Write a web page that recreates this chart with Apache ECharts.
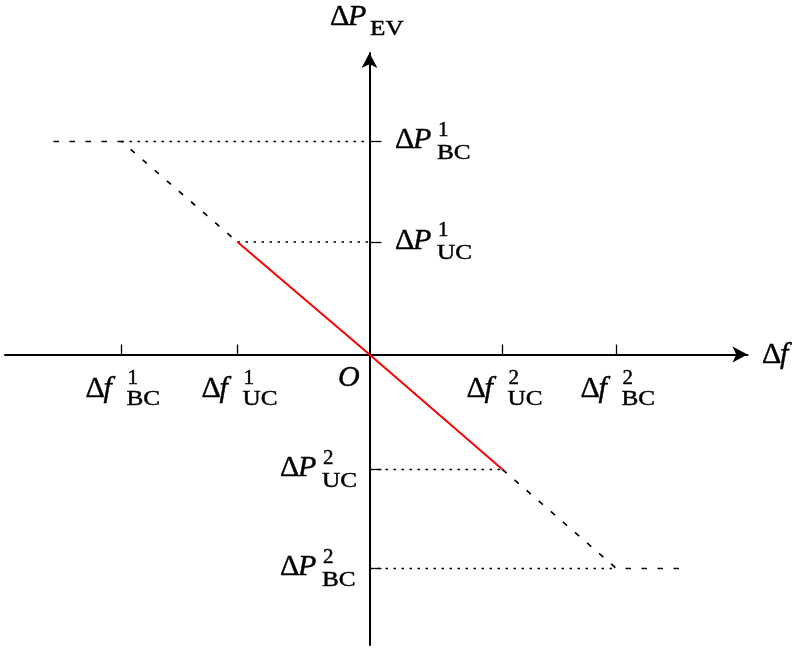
<!DOCTYPE html>
<html><head><meta charset="utf-8">
<script src="https://cdn.jsdelivr.net/npm/echarts@6/dist/echarts.min.js"></script>
<style>html,body{margin:0;padding:0;background:#fff}#chart{width:800px;height:649px}</style>
</head><body><div id="chart"></div>
<script>
// Δf tick positions (arbitrary units), left to right
const fTickValues = [-2.48, -1.32, 1.33, 2.47];
const fTickSup = ['1', '1', '2', '2'];
const fTickSub = ['BC', 'UC', 'UC', 'BC'];
// ΔP_EV tick positions, top to bottom
const pTickValues = [2.13, 1.125, -1.15, -2.14];
const pTickSup = ['1', '1', '2', '2'];
const pTickSub = ['BC', 'UC', 'UC', 'BC'];
// ends of the horizontal saturation segments
const fLeftEnd = -3.16;
const fRightEnd = 3.2;
// axis ranges
const fMin = -3.645, fMax = 3.78;
const pMin = -2.905, pMax = 3.015;

const FAMILY = 'Liberation Serif';
const MAIN = 30, SMALL = 21;

// line data built from the arrays above
const redLine = [[fTickValues[1], pTickValues[1]], [0, 0], [fTickValues[2], pTickValues[2]]];
const dashLeft = [[fLeftEnd, pTickValues[0]], [fTickValues[0], pTickValues[0]], [fTickValues[1], pTickValues[1]]];
const dashRight = [[fTickValues[2], pTickValues[2]], [fTickValues[3], pTickValues[3]], [fRightEnd, pTickValues[3]]];
const dotLines = [
  [[fTickValues[0], pTickValues[0]], [0, pTickValues[0]]],
  [[fTickValues[1], pTickValues[1]], [0, pTickValues[1]]],
  [[0, pTickValues[2]], [fTickValues[2], pTickValues[2]]],
  [[0, pTickValues[3]], [fTickValues[3], pTickValues[3]]]
];

const dotStyle = { color: '#000', width: 1.6, type: [2.5, 5.5] };
const dashStyle = { color: '#000', width: 1.7, type: [5.5, 10.5] };

const series = [];
dotLines.forEach(d => series.push({ type: 'line', data: d, symbol: 'none', lineStyle: dotStyle, z: 3 }));
series.push({ type: 'line', data: dashLeft, symbol: 'none', lineStyle: dashStyle, z: 3 });
series.push({ type: 'line', data: dashRight, symbol: 'none', lineStyle: dashStyle, z: 3 });
series.push({ type: 'line', data: redLine, symbol: 'none', lineStyle: { color: '#ff0000', width: 2 }, z: 4 });

const chart = echarts.init(document.getElementById('chart'), null, { renderer: 'canvas' });
chart.setOption({
  animation: false,
  backgroundColor: '#fff',
  textStyle: { fontFamily: FAMILY },
  grid: { left: 5, right: 52.5, top: 53, bottom: 4, containLabel: false },
  xAxis: {
    type: 'value', min: fMin, max: fMax,
    axisLine: { onZero: true, symbol: ['none', 'arrow'], symbolSize: [12, 15], lineStyle: { color: '#000', width: 2 } },
    axisTick: { show: true, inside: true, length: 10, customValues: fTickValues, lineStyle: { color: '#000', width: 1.3 } },
    axisLabel: { show: false },
    splitLine: { show: false }
  },
  yAxis: {
    type: 'value', min: pMin, max: pMax,
    axisLine: { show: true, onZero: true, symbol: ['none', 'arrow'], symbolSize: [12, 15], lineStyle: { color: '#000', width: 2 } },
    axisTick: { show: true, inside: true, length: 12, customValues: pTickValues, lineStyle: { color: '#000', width: 1.3 } },
    axisLabel: { show: false },
    splitLine: { show: false }
  },
  series: series
});

// ---- math-style labels placed through the chart's own coordinate conversion ----
function txt(text, x, baseline, size, italic, scaleX) {
  return {
    type: 'text', x: x, y: baseline - 0.34 * size, scaleX: scaleX || 1, silent: true, z: 10,
    style: {
      text: text, fontSize: size, fontFamily: FAMILY, fontStyle: italic ? 'italic' : 'normal',
      fill: '#000', stroke: '#000', lineWidth: 0.45, align: 'left', verticalAlign: 'middle'
    }
  };
}
const toPx = (x, y) => chart.convertToPixel({ gridIndex: 0 }, [x, y]);
const graphic = [];
fTickValues.forEach((v, i) => {
  const pt = toPx(v, 0); const l = pt[0] - 36, b = pt[1] + 45;
  graphic.push(txt('Δ', l, b, MAIN), txt('f', l + 18, b, MAIN, true),
    txt(fTickSup[i], l + 42, b - 14, SMALL), txt(fTickSub[i], l + 41, b + 7, SMALL, false, 1.2));
});
pTickValues.forEach((v, i) => {
  const pt = toPx(0, v); const l = v > 0 ? pt[0] + 25.5 : pt[0] - 89.5, b = pt[1] + 9;
  graphic.push(txt('Δ', l, b, MAIN), txt('P', l + 18, b, MAIN, true),
    txt(pTickSup[i], l + 43, b - 13, SMALL), txt(pTickSub[i], l + 42, b + 10, SMALL, false, 1.2));
});
{
  const pt = toPx(fMax, 0); const l = pt[0] + 14.5, b = pt[1] + 11;
  graphic.push(txt('Δ', l, b, MAIN), txt('f', l + 18, b, MAIN, true));
}
{
  const pt = toPx(0, pMax); const l = pt[0] - 39.5, b = pt[1] - 26;
  graphic.push(txt('Δ', l, b, MAIN), txt('P', l + 18, b, MAIN, true), txt('EV', l + 40, b + 10, SMALL, false, 1.2));
}
{
  const pt = toPx(0, 0);
  graphic.push(txt('O', pt[0] - 31.5, pt[1] + 33.5, MAIN, true));
}
chart.setOption({ graphic: graphic });
</script>
</body></html>
